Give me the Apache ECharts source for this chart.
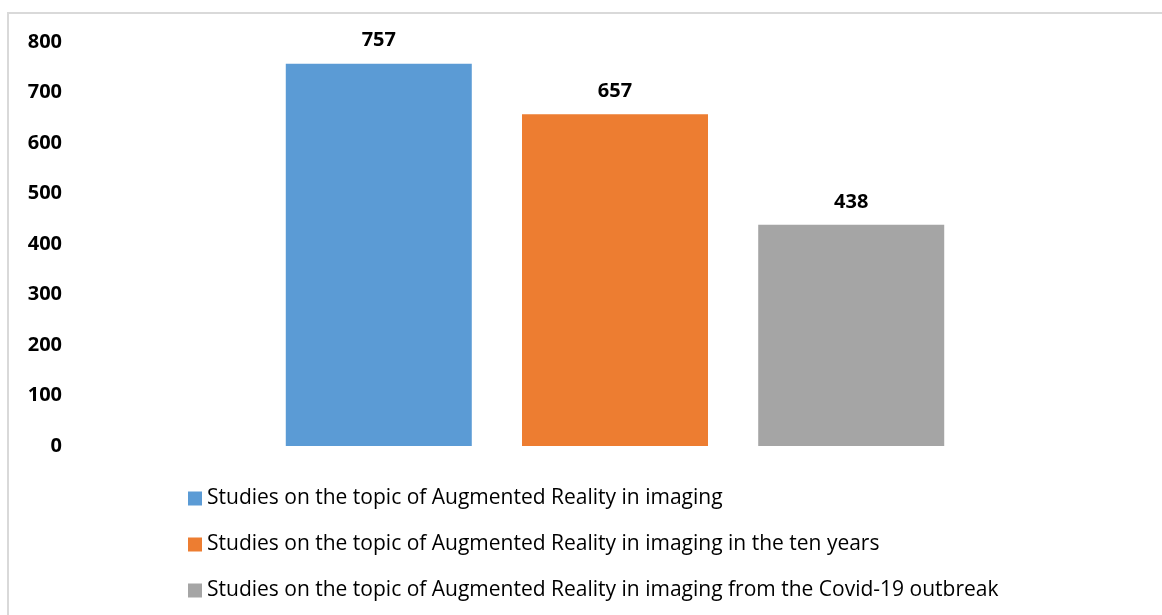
<!DOCTYPE html>
<html>
<head>
<meta charset="utf-8">
<script src="https://cdn.jsdelivr.net/npm/echarts@6/dist/echarts.min.js"></script>
<style>
html, body { margin: 0; padding: 0; background: #fff; }
#echart { width: 1162px; height: 615px; }
</style>
</head>
<body>
<div id="echart"></div>
<script>
let seriesNames = [
	'Studies on the topic of Augmented Reality in imaging',
	'Studies on the topic of Augmented Reality in imaging in the ten years',
	'Studies on the topic of Augmented Reality in imaging from the Covid-19 outbreak'
];
let seriesValues = [757, 657, 438];
let seriesColors = ['#5b9bd5', '#ed7d31', '#a5a5a5'];
let categories = [''];

function drawChart() {
	let dom = document.getElementById("echart");
	let myChart = echarts.init(dom);
	let option;

	option = {
		animation: false,
		textStyle: {
			fontFamily: 'Open Sans'
		},
		graphic: [
			{
				type: 'rect',
				shape: { x: 8, y: 13, width: 1170, height: 620 },
				style: { fill: 'none', stroke: '#d9d9d9', lineWidth: 2 },
				silent: true
			}
		],
		legend: {
			orient: 'vertical',
			left: 183,
			top: 483,
			itemWidth: 14,
			itemHeight: 14,
			itemGap: 25,
			icon: 'rect',
			textStyle: {
				fontSize: 21,
				color: '#000',
				padding: [0, 0, 0, 0]
			},
			data: seriesNames
		},
		grid: {
			left: 100,
			right: 32,
			top: 42,
			bottom: 169
		},
		xAxis: {
			type: 'category',
			data: categories,
			axisLine: { show: false },
			axisTick: { show: false },
			axisLabel: { show: false }
		},
		yAxis: {
			type: 'value',
			min: 0,
			max: 800,
			interval: 100,
			axisLine: { show: false },
			axisTick: { show: false },
			splitLine: { show: false },
			axisLabel: {
				color: '#000',
				fontWeight: 'bold',
				fontSize: 20,
				margin: 38
			}
		},
		series: seriesNames.map((name, i) => ({
			name: name,
			type: 'bar',
			data: [seriesValues[i]],
			barWidth: 186,
			barGap: '27%',
			itemStyle: { color: seriesColors[i] },
			label: {
				show: true,
				position: 'top',
				distance: 13,
				color: '#000',
				fontWeight: 'bold',
				fontSize: 20
			}
		}))
	};

	if (option && typeof option === 'object') {
		myChart.setOption(option);
	}
}

drawChart();
</script>
</body>
</html>
